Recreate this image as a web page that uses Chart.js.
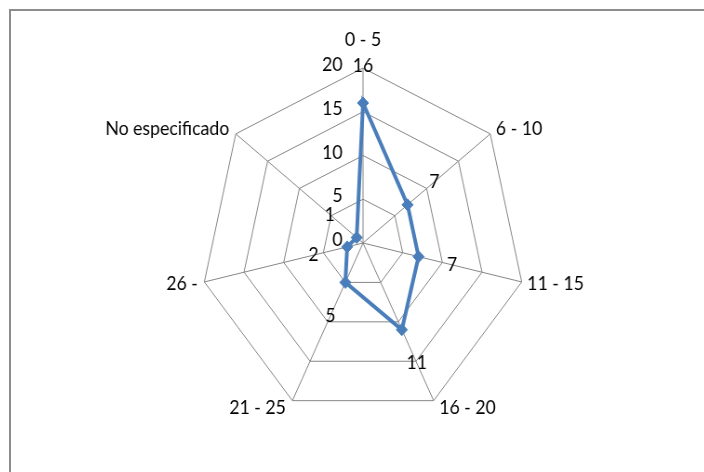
<!DOCTYPE html>
<html>
<head>
<meta charset="utf-8">
<script src="https://cdn.jsdelivr.net/npm/chart.js@4/dist/chart.umd.min.js"></script>
<style>
  html, body { margin: 0; padding: 0; background: #fff; }
  #page { position: relative; width: 704px; height: 472px; overflow: hidden; }
  /* frame: only the top and left edges show */
  #frame {
    position: absolute; left: 9px; top: 9px; width: 720px; height: 480px;
    border-top: 2px solid #8c8c8c; border-left: 2px solid #8c8c8c;
  }
  /* the plot is a little narrower than it is tall */
  #wrap { position: absolute; left: 0; top: 0; width: 704px; height: 472px;
          transform: scaleX(0.93); transform-origin: 363px 0; }
</style>
</head>
<body>
<div id="page">
  <div id="frame"></div>
  <div id="wrap"><canvas id="chart" width="704" height="472"></canvas></div>
</div>
<script>
// age groups and how many fall in each
var categories = ["0 - 5", "6 - 10", "11 - 15", "16 - 20", "21 - 25", "26 -", "No especificado"];
var counts = [16, 7, 7, 11, 5, 2, 1];
var tickValues = [0, 5, 10, 15, 20];

var FONT = '19px Lato';
var INK = '#000';

/* category names, axis numbers and value labels, all placed from the scale */
var labelPlugin = {
  id: 'radarText',
  afterDatasetsDraw: function(chart) {
    var ctx = chart.ctx;
    var r = chart.scales.r;
    var n = categories.length;
    ctx.save();
    ctx.font = FONT;
    ctx.fillStyle = INK;

    // category names just outside each corner
    for (var i = 0; i < n; i++) {
      var a = r.getIndexAngle(i);
      var v = r.getPointPosition(i, r.drawingArea);
      var s = Math.sin(a), c = Math.cos(a);
      if (Math.abs(s) < 0.01) {
        ctx.textAlign = 'center';
        ctx.textBaseline = 'bottom';
        ctx.fillText(categories[i], v.x, v.y - 19);
        continue;
      }
      ctx.textAlign = s > 0 ? 'left' : 'right';
      ctx.textBaseline = 'middle';
      ctx.fillText(categories[i], v.x + (s > 0 ? 6 : -7), v.y - c * 8);
    }

    // axis numbers on the left of the first spoke
    ctx.textAlign = 'right';
    ctx.textBaseline = 'middle';
    tickValues.forEach(function(t) {
      var p = r.getPointPositionForValue(0, t);
      ctx.fillText(String(t), p.x - 22, p.y - 3);
    });

    // value labels a bit further out than each point
    ctx.textAlign = 'center';
    for (var j = 0; j < n; j++) {
      var d = r.getDistanceFromCenterForValue(counts[j]) + 37;
      var q = r.getPointPosition(j, d);
      ctx.fillText(String(counts[j]), q.x, q.y);
    }
    ctx.restore();
  }
};

var chart = new Chart(document.getElementById('chart'), {
  type: 'radar',
  data: {
    labels: categories,
    datasets: [{
      data: counts,
      fill: false,
      tension: 0,
      borderColor: '#4a7ebb',
      borderWidth: 4,
      pointStyle: 'rectRot',
      pointRadius: 6,
      pointBackgroundColor: '#4a7ebb',
      pointBorderColor: '#4a7ebb',
      pointBorderWidth: 1
    }]
  },
  options: {
    responsive: false,
    animation: false,
    layout: { padding: { left: 22, right: 0, top: 68, bottom: 54 } },
    plugins: { legend: { display: false }, tooltip: { enabled: false } },
    scales: {
      r: {
        min: 0,
        max: 20,
        ticks: { stepSize: 5, display: false },
        grid: { circular: false, color: '#858585', lineWidth: 1 },
        angleLines: { color: '#858585', lineWidth: 1 },
        pointLabels: { display: false }
      }
    }
  },
  plugins: [labelPlugin]
});
</script>
</body>
</html>
